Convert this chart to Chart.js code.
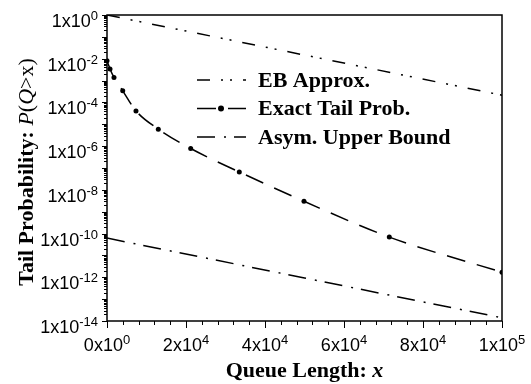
<!DOCTYPE html>
<html>
<head>
<meta charset="utf-8">
<script src="https://cdn.jsdelivr.net/npm/chart.js@4.4.1/dist/chart.umd.min.js"></script>
<style>
html, body { margin: 0; padding: 0; background: #fff; }
</style>
</head>
<body>
<canvas id="myChart" width="531" height="384"></canvas>
<script>
// data
const xExact = [0, 760, 1770, 3980, 7340, 12990, 21190, 33490, 49870, 71470, 100000];
const yExact = [8.0e-3, 3.4e-3, 1.4e-3, 3.4e-4, 4.1e-5, 6.0e-6, 7.8e-7, 6.6e-8, 3.0e-9, 6.9e-11, 1.7e-12];
const xEB = [0, 50000, 100000];
const yEB = [1.0, 1.47e-2, 2.15e-4];
const xAsym = [0, 50000, 100000];
const yAsym = [6.2e-11, 9.3e-13, 1.4e-14];

// tick labels
const yTickExps = [0, -2, -4, -6, -8, -10, -12, -14];
const xTickVals = [0, 20000, 40000, 60000, 80000, 100000];
const xTickMant = ['0', '2', '4', '6', '8', '1'];
const xTickExp = ['0', '4', '4', '4', '4', '5'];

const seriesNames = ['EB Approx.', 'Exact Tail Prob.', 'Asym. Upper Bound'];

function pts(xs, ys) {
    return xs.map((x, i) => ({ x: x, y: ys[i] }));
}

const SANS = '"Liberation Sans", Arial, sans-serif';
const SERIF = '"Liberation Serif", "Times New Roman", serif';

// "1x10" with a raised exponent
function drawPow(ctx, main, exp, x, baseline, align) {
    ctx.font = '18px ' + SANS;
    const wMain = ctx.measureText(main).width;
    ctx.font = '13px ' + SANS;
    const wSup = ctx.measureText(exp).width;
    const total = wMain + wSup;
    let start = x;
    if (align == 'right') start = x - total;
    if (align == 'center') start = x - total / 2;
    ctx.textAlign = 'left';
    ctx.textBaseline = 'alphabetic';
    ctx.font = '18px ' + SANS;
    ctx.fillText(main, start, baseline);
    ctx.font = '13px ' + SANS;
    ctx.fillText(exp, start + wMain, baseline - 7);
}

// draw a row of text pieces with different fonts
function drawPieces(ctx, pieces, x, y) {
    let w = 0;
    pieces.forEach(p => { ctx.font = p[1]; w += ctx.measureText(p[0]).width; });
    let cx = x - w / 2;
    pieces.forEach(p => {
        ctx.font = p[1];
        ctx.fillText(p[0], cx, y);
        cx += ctx.measureText(p[0]).width;
    });
}

const axesPlugin = {
    id: 'axesPlugin',
    afterDatasetsDraw(chart) {
        const ctx = chart.ctx;
        const a = chart.chartArea;
        const xs = chart.scales.x;
        const ys = chart.scales.y;
        ctx.save();
        ctx.fillStyle = '#000';
        ctx.strokeStyle = '#000';

        // frame
        ctx.lineWidth = 1.5;
        ctx.setLineDash([]);
        ctx.strokeRect(a.left, a.top, a.right - a.left, a.bottom - a.top);

        // y ticks (log)
        ctx.lineWidth = 1;
        ctx.beginPath();
        for (let d = -14; d <= 0; d++) {
            const y = Math.round(ys.getPixelForValue(Math.pow(10, d))) + 0.5;
            ctx.moveTo(a.left - 5, y);
            ctx.lineTo(a.left, y);
            if (d < 0) {
                for (let m = 2; m <= 9; m++) {
                    const ym = Math.round(ys.getPixelForValue(m * Math.pow(10, d))) + 0.5;
                    ctx.moveTo(a.left - 3, ym);
                    ctx.lineTo(a.left, ym);
                }
            }
        }
        // x ticks
        for (let v = 0; v <= 100000; v += 4000) {
            const x = Math.round(xs.getPixelForValue(v)) + 0.5;
            const len = (v % 20000 == 0) ? 7 : 4;
            ctx.moveTo(x, a.bottom);
            ctx.lineTo(x, a.bottom + len);
        }
        ctx.stroke();

        // y tick labels
        yTickExps.forEach(e => {
            const y = ys.getPixelForValue(Math.pow(10, e));
            drawPow(ctx, '1x10', String(e), a.left - 9, y + 12, 'right');
        });
        // x tick labels
        xTickVals.forEach((v, i) => {
            const x = xs.getPixelForValue(v);
            drawPow(ctx, xTickMant[i] + 'x10', xTickExp[i], x, a.bottom + 30, 'center');
        });

        // axis titles
        ctx.textAlign = 'left';
        ctx.textBaseline = 'alphabetic';
        drawPieces(ctx, [
            ['Queue Length: ', 'bold 22px ' + SERIF],
            ['x', 'bold italic 22px ' + SERIF]
        ], (a.left + a.right) / 2, 377);

        ctx.save();
        ctx.translate(33, 172);
        ctx.rotate(-Math.PI / 2);
        drawPieces(ctx, [
            ['Tail Probability: ', 'bold 22px ' + SERIF],
            ['P', 'italic 22px ' + SERIF],
            ['(', '22px ' + SERIF],
            ['Q', 'italic 22px ' + SERIF],
            ['>x)', '22px ' + SERIF]
        ], 0, 0);
        ctx.restore();

        // legend inside the plot
        chart.data.datasets.forEach((ds, i) => {
            const rowY = 80 + i * 28.5;
            ctx.lineWidth = 1.5;
            ctx.setLineDash(ds.borderDash || []);
            ctx.beginPath();
            ctx.moveTo(197, rowY);
            ctx.lineTo(246, rowY);
            ctx.stroke();
            ctx.setLineDash([]);
            if (ds.pointRadius > 0) {
                ctx.beginPath();
                ctx.arc(221, rowY, 3, 0, Math.PI * 2);
                ctx.fill();
            }
            ctx.font = 'bold 22px ' + SERIF;
            ctx.textBaseline = 'middle';
            ctx.fillText(ds.label, 258, rowY + 1);
            ctx.textBaseline = 'alphabetic';
        });
        ctx.restore();
    }
};

const ctx = document.getElementById('myChart').getContext('2d');
const myChart = new Chart(ctx, {
    type: 'line',
    data: {
        datasets: [{
            label: seriesNames[0],
            data: pts(xEB, yEB),
            borderColor: '#000',
            borderWidth: 1.5,
            borderDash: [13, 11, 2, 7, 2, 11],
            pointRadius: 0,
            fill: false
        },
        {
            label: seriesNames[1],
            data: pts(xExact, yExact),
            borderColor: '#000',
            borderWidth: 1.5,
            borderDash: [19, 12],
            cubicInterpolationMode: 'monotone',
            pointRadius: 2.5,
            pointBackgroundColor: '#000',
            pointBorderWidth: 0,
            fill: false
        },
        {
            label: seriesNames[2],
            data: pts(xAsym, yAsym),
            borderColor: '#000',
            borderWidth: 1.5,
            borderDash: [18, 9, 2, 8],
            pointRadius: 0,
            fill: false
        }]
    },
    options: {
        responsive: false,
        animation: false,
        layout: { padding: { left: 107, right: 29, top: 15, bottom: 63 } },
        plugins: {
            legend: { display: false },
            tooltip: { enabled: false }
        },
        scales: {
            x: { type: 'linear', min: 0, max: 100000, display: false },
            y: { type: 'logarithmic', min: 1e-14, max: 1, display: false }
        }
    },
    plugins: [axesPlugin]
});
</script>
</body>
</html>
